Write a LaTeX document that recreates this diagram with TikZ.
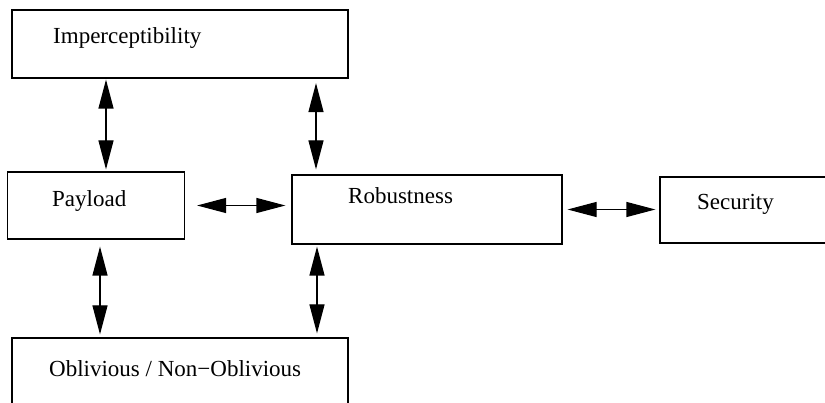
\documentclass[tikz,border=0pt]{standalone}
\usepackage{fontspec}
\setmainfont{Liberation Serif}
\usepackage{tikz}
\usetikzlibrary{arrows.meta, calc}

\begin{document}
\begin{tikzpicture}[x=1pt, y=-1pt,
      box/.style={rectangle, draw=black, line width=1.2pt, inner sep=0pt},
      lbl/.style={anchor=base west, inner sep=0pt, font=\fontsize{23}{27}\selectfont},
      arr/.style={{Triangle[length=29pt, width=15pt]}-{Triangle[length=29pt, width=15pt]},
                  line width=1.2pt, shorten <=3pt, shorten >=3pt},
    ]
      \useasboundingbox (0,0) rectangle (825,403);
      \clip (0,0) rectangle (825,403);

      % boxes
      \node[box, minimum width=336pt, minimum height=68pt] (imp) at (180,44) {};
      \node[box, minimum width=177pt, minimum height=67pt] (pay) at (96,205.5) {};
      \node[box, minimum width=270pt, minimum height=69pt] (rob) at (427,209.5) {};
      \node[box, minimum width=170pt, minimum height=66pt] (sec) at (745,210) {};
      \node[box, minimum width=336pt, minimum height=82pt] (obl) at (180,379) {};

      % labels
      \node[lbl] (imptxt) at (53,43.5) {Imperceptibility};
      \node[lbl] (paytxt) at (52,206.5) {Payload};
      \node[lbl] (robtxt) at (348,204) {Robustness};
      \node[lbl] (sectxt) at (697,210) {Security};
      \node[lbl] (obltxt) at (49,377) {Oblivious / Non−Oblivious};

      % arrows
      \draw[arr, shorten <=1pt, shorten >=2pt] ([xshift=10pt]pay.north |- imp.south) -- ([xshift=10pt]pay.north);
      \draw[arr, shorten <=4.5pt, shorten >=5pt] ([xshift=-111pt]rob.north |- imp.south) -- ([xshift=-111pt]rob.north);
      \draw[arr, shorten <=12pt, shorten >=6pt] (pay.east) -- (pay.east -| rob.west);
      \draw[arr, shorten <=5pt, shorten >=4pt] (rob.east) -- (rob.east -| sec.west);
      \draw[arr, shorten <=7pt, shorten >=3pt] ([xshift=4pt]pay.south) -- ([xshift=4pt]pay.south |- obl.north);
      \draw[arr, shorten <=2pt, shorten >=4pt] ([xshift=-110pt]rob.south) -- ([xshift=-110pt]rob.south |- obl.north);

\end{tikzpicture}
\end{document}
